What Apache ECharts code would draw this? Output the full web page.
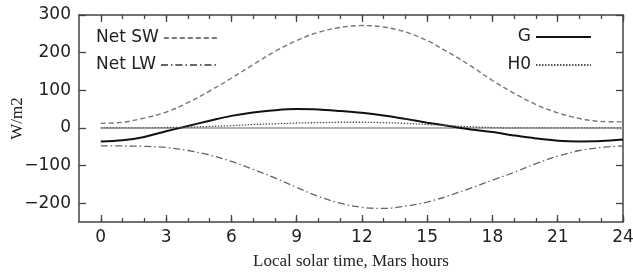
<!DOCTYPE html>
<html>
<head>
<meta charset="utf-8">
<script src="https://cdn.jsdelivr.net/npm/echarts@6/dist/echarts.min.js"></script>
<style>
html,body{margin:0;padding:0;background:#fff;}
#chart{width:633px;height:274px;}
</style>
</head>
<body>
<div id="chart"></div>
<script>
// Local solar time (Mars hours)
var hours = [0,1,2,3,4,5,6,7,8,9,10,11,12,13,14,15,16,17,18,19,20,21,22,23,24];
// Net shortwave flux (W/m2)
var netSW = [12,15,26,42,67,98,132,168,203,232,254,267,272,268,255,232,200,165,126,92,62,40,25,17,16];
// Net longwave flux (W/m2)
var netLW = [-48,-48,-49,-52,-60,-72,-89,-110,-133,-158,-182,-200,-211,-214,-208,-197,-180,-160,-139,-118,-95,-75,-60,-52,-48];
// Ground heat flux G (W/m2)
var G = [-36,-33,-24,-9,5,19,32,41,47,50,49,45,40,33,24,14,5,-4,-11,-20,-28,-34,-36,-35,-31];
// Sensible heat flux H0 (W/m2)
var H0 = [0,0,0,1,2,4,6,9,11,13,14,15,15,14,12,9,6,3,1,0,0,0,0,0,0];
// Zero reference line
var zeroHours = [0,24];
var zeroVals = [0,0];
// Axis ticks
var xMajor = [0,3,6,9,12,15,18,21,24];
var xMinor = [0,1,2,3,4,5,6,7,8,9,10,11,12,13,14,15,16,17,18,19,20,21,22,23,24];
var yMajor = [-200,-100,0,100,200,300];

function pairs(xs, ys){ return xs.map(function(x,i){ return [x, ys[i]]; }); }

var axisColor = '#444';
var labelFont = {fontFamily:'DejaVu Sans', fontSize:17, color:'#222'};
var serifFont = {fontFamily:'Liberation Serif', fontSize:17, color:'#222'};
function minusFmt(v){ return String(v).replace('-', '\u2212'); }

function xAx(pos, ticks, len, showLine, showLabel){
  return {
    type:'value', min:-1, max:24, position:pos,
    axisLine:{show:showLine, onZero:false, lineStyle:{color:axisColor,width:1.5}},
    axisTick:{show:true, inside:true, length:len, customValues:ticks, lineStyle:{color:axisColor,width:1.3}},
    axisLabel:Object.assign({show:showLabel, customValues:ticks, margin:7}, labelFont),
    splitLine:{show:false}
  };
}
function yAx(pos, showLabel){
  return {
    type:'value', min:-250, max:300, position:pos,
    axisLine:{show:true, onZero:false, lineStyle:{color:axisColor,width:1.5}},
    axisTick:{show:true, inside:true, length:7, customValues:yMajor, lineStyle:{color:axisColor,width:1.3}},
    axisLabel:Object.assign({show:showLabel, customValues:yMajor, margin:8, formatter:minusFmt}, labelFont),
    splitLine:{show:false}
  };
}

var xMain = xAx('bottom', xMajor, 7, true, true);
xMain.name = 'Local solar time, Mars hours';
xMain.nameLocation = 'middle';
xMain.nameGap = 31;
xMain.nameMoveOverlap = false;
xMain.nameTextStyle = serifFont;

var yMain = yAx('left', true);
yMain.name = 'W/m2';
yMain.nameLocation = 'middle';
yMain.nameGap = 53;
yMain.nameMoveOverlap = false;
yMain.nameTextStyle = serifFont;

function leg(name, pos){
  return Object.assign({
    data:[name], orient:'vertical', align:'right', padding:0,
    itemWidth:55, itemHeight:14, itemGap:0,
    itemStyle:{opacity:0},
    textStyle:{fontFamily:'DejaVu Sans', fontSize:17, color:'#222', lineHeight:18}
  }, pos);
}

var option = {
  animation:false,
  backgroundColor:'#fff',
  grid:{left:79, right:10, top:15, bottom:52, containLabel:false, outerBoundsMode:'none'},
  legend:[
    leg('Net SW', {left:96, top:29}),
    leg('Net LW', {left:96, top:56}),
    leg('G', {right:41, top:28}),
    leg('H0', {right:41, top:56})
  ],
  xAxis:[
    xMain,
    xAx('bottom', xMinor, 4, false, false),
    xAx('top', xMajor, 7, true, false),
    xAx('top', xMinor, 4, false, false)
  ],
  yAxis:[ yMain, yAx('right', false) ],
  series:[
    {name:'zero', type:'line', data:pairs(zeroHours, zeroVals), showSymbol:false, symbol:'none',
     color:'#b0b0b0', lineStyle:{color:'#b0b0b0', width:2}, silent:true, z:1},
    {name:'Net SW', type:'line', data:pairs(hours, netSW), smooth:0.35, showSymbol:false, symbol:'none',
     color:'#777', lineStyle:{color:'#777', width:1.4, type:[5,3]}},
    {name:'Net LW', type:'line', data:pairs(hours, netLW), smooth:0.35, showSymbol:false, symbol:'none',
     color:'#666', lineStyle:{color:'#666', width:1.3, type:[7,3,1.5,3]}},
    {name:'G', type:'line', data:pairs(hours, G), smooth:0.35, showSymbol:false, symbol:'none',
     color:'#111', lineStyle:{color:'#111', width:2}},
    {name:'H0', type:'line', data:pairs(hours, H0), smooth:0.35, showSymbol:false, symbol:'none',
     color:'#555', lineStyle:{color:'#555', width:1.3, type:[1.5,1.5]}}
  ]
};

var chart = echarts.init(document.getElementById('chart'), null, {renderer:'canvas'});
chart.setOption(option);
</script>
</body>
</html>
